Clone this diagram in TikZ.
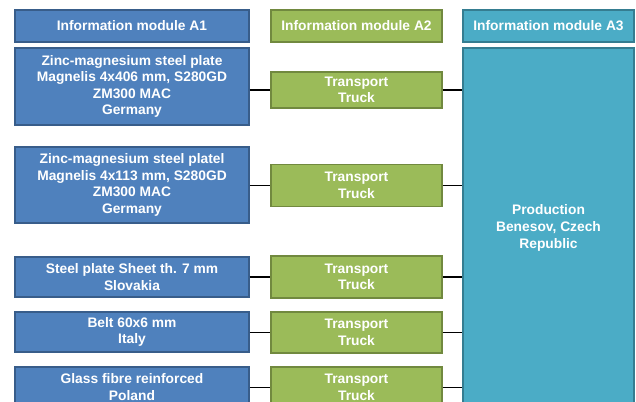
\documentclass[tikz,border=0pt]{standalone}
\usepackage{fontspec}
\setmainfont{Liberation Sans}
\usetikzlibrary{positioning}

\definecolor{blaufill}{HTML}{4F81BD}
\definecolor{blaurand}{HTML}{385D8A}
\definecolor{gruenfill}{HTML}{9BBB59}
\definecolor{gruenrand}{HTML}{71893F}
\definecolor{tuerkisfill}{HTML}{4BACC6}
\definecolor{tuerkisrand}{HTML}{357D91}

\tikzset{
  modul/.style={draw, line width=1.2pt, align=center, text=white, inner sep=0pt,
    font=\bfseries\fontsize{13.8}{16.6}\selectfont},
  quelle/.style={modul, fill=blaufill, draw=blaurand, minimum width=234pt},
  transport/.style={modul, fill=gruenfill, draw=gruenrand, minimum width=171pt},
  werk/.style={modul, fill=tuerkisfill, draw=tuerkisrand, minimum width=171pt},
  verb/.style={line width=1.5pt, black}
}

\begin{document}
\begin{tikzpicture}[x=1pt,y=-1pt]
\useasboundingbox (0,0) rectangle (636,401);
%Kopfzeile
\node[quelle, minimum height=32pt] (kopfA1) at (132,26) {Information module A1};
\node[transport, minimum height=32pt] (kopfA2) at (356.5,26) {Information module A2};
\node[werk, minimum height=32pt] (kopfA3) at (548.5,26) {Information module A3};
%Material A1
\node[quelle, minimum height=77pt] (zink1) at (132,86.5) {Zinc-magnesium steel plate\\Magnelis 4x406 mm, S280GD\\ZM300 MAC\\Germany};
\node[quelle, minimum height=76pt] (zink2) at (132,185) {Zinc-magnesium steel platel\\Magnelis 4x113 mm, S280GD\\ZM300 MAC\\Germany};
\node[quelle, minimum height=40pt] (stahl) at (132,277) {Steel plate Sheet th. 7 mm\\Slovakia};
\node[quelle, minimum height=40pt] (gurt) at (132,332) {Belt 60x6 mm\\Italy};
\node[quelle, minimum height=40pt] (glas) at (132,387) {Glass fibre reinforced\\Poland};
%Transport A2
\node[transport, minimum height=36pt] (lkw1) at (356.5,90) {Transport\\Truck};
\node[transport, minimum height=42pt] (lkw2) at (356.5,185.5) {Transport\\Truck};
\node[transport, minimum height=42pt] (lkw3) at (356.5,277) {Transport\\Truck};
\node[transport, minimum height=41pt] (lkw4) at (356.5,332.5) {Transport\\Truck};
\node[transport, minimum height=41pt] (lkw5) at (356.5,387.5) {Transport\\Truck};
%Produktion A3
\node[werk, minimum height=360pt] (werk) at (548.5,228) {Production\\Benesov, Czech\\Republic};

%Verbindungen
\foreach \q/\t in {zink1/lkw1, zink2/lkw2, stahl/lkw3, gurt/lkw4, glas/lkw5}{
  \draw[verb] (\q.east |- \t.west) -- (\t.west);
  \draw[verb] (\t.east) -- (\t.east -| werk.west);
}
\end{tikzpicture}
\end{document}
